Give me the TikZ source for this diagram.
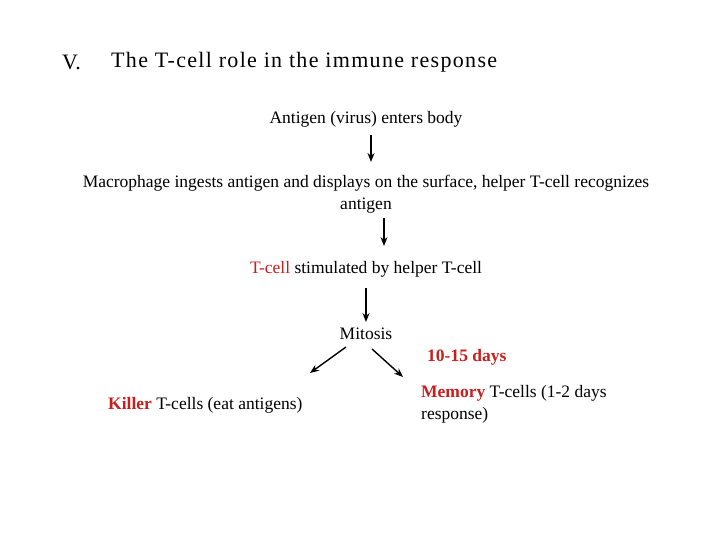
\documentclass[tikz,border=0pt]{standalone}
\usepackage{fontspec}
\usetikzlibrary{arrows.meta}
\setmainfont{Liberation Serif}
\definecolor{tred}{RGB}{200,30,30}
\begin{document}
\begin{tikzpicture}[x=1pt,y=-1pt,
  txt/.style={inner sep=0pt,font=\fontsize{17.5}{22}\selectfont},
  arr/.style={-{Stealth[length=9pt,width=7pt]},line width=1.4pt}]
\useasboundingbox (0,0) rectangle (720,540);
\node[txt,anchor=west,font=\fontsize{22}{26}\selectfont] (v) at (62,62) {V.};
\node[txt,anchor=west,font=\fontsize{22}{26}\selectfont\addfontfeatures{LetterSpace=6}] (title) at (111,62) {The T-cell role in the immune response};
\node[txt] (a) at (366,119) {Antigen (virus) enters body};
\node[txt,align=center] (m) at (366,194) {Macrophage ingests antigen and displays on the surface, helper T-cell recognizes\\antigen};
\node[txt] (t) at (366,269) {\textcolor{tred}{T-cell} stimulated by helper T-cell};
\node[txt] (mi) at (366,334) {Mitosis};
\node[txt,anchor=west,text=tred,font=\bfseries\fontsize{17.5}{22}\selectfont] (d) at (427,357) {10-15 days};
\node[txt,anchor=west] (k) at (108,405) {\textcolor{tred}{\textbf{Killer}} T-cells (eat antigens)};
\node[txt,anchor=west,align=left] (me) at (421,404) {\textcolor{tred}{\textbf{Memory}} T-cells (1-2 days\\response)};
\coordinate (a1) at (371,135); \coordinate (a2) at (371,162);
\coordinate (b1) at (384,218); \coordinate (b2) at (384,246);
\coordinate (c1) at (366,288); \coordinate (c2) at (366,322);
\coordinate (l1) at (346,347); \coordinate (l2) at (310,373);
\coordinate (r1) at (372,349); \coordinate (r2) at (403,377);
\draw[arr] (a1) -- (a2);
\draw[arr] (b1) -- (b2);
\draw[arr] (c1) -- (c2);
\draw[arr] (l1) -- (l2);
\draw[arr] (r1) -- (r2);
\end{tikzpicture}
\end{document}
